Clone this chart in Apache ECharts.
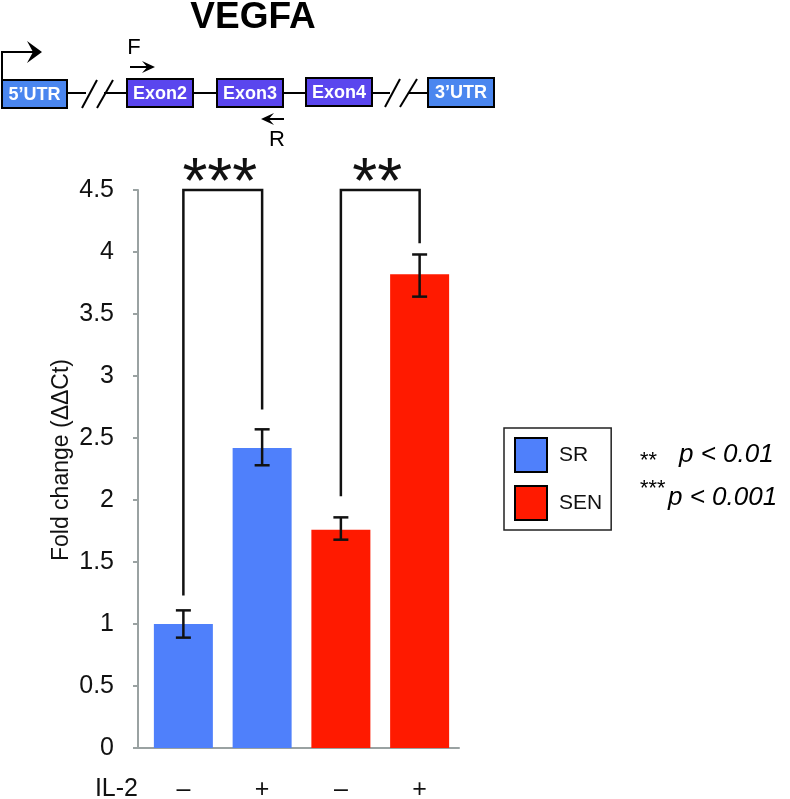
<!DOCTYPE html>
<html>
<head>
<meta charset="utf-8">
<script src="https://cdn.jsdelivr.net/npm/echarts@6/dist/echarts.min.js"></script>
<style>
  html, body { margin: 0; padding: 0; background: #fff; }
  #chart { width: 790px; height: 799px; }
</style>
</head>
<body>
<div id="chart"></div>
<script>
// 数据
var groups = ['–', '+', '–', '+'];
var seriesNames = ['SR', 'SEN'];
var srValues = [1.0, 2.42, '-', '-'];
var senValues = ['-', '-', 1.76, 3.82];
var errLow = [0.89, 2.28, 1.68, 3.64];
var errHigh = [1.11, 2.57, 1.86, 3.98];
// 显著性标记
var sigPairs = [[0, 1], [2, 3]];
var sigTop = [4.5, 4.5];
var sigLeftEnd = [1.23, 2.03];
var sigRightEnd = [2.73, 4.07];
var sigLabels = ['***', '**'];
var pNotes = [['**', 'p < 0.01'], ['***', 'p < 0.001']];

var FONT = '"Liberation Sans", Arial, Helvetica, sans-serif';
var blue = '#4f80fb';
var red = '#ff1a00';
var utrBlue = '#4a86ef';
var exonPurple = '#5a46ee';

var errData = [];
for (var i = 0; i < groups.length; i++) {
    errData.push([i, errLow[i], errHigh[i]]);
}
var sigData = [];
for (var j = 0; j < sigPairs.length; j++) {
    sigData.push([sigPairs[j][0], sigPairs[j][1], sigTop[j], sigLeftEnd[j], sigRightEnd[j]]);
}

// 基因结构示意图
function geneBox(x, y, w, h, fill, txt) {
    return [
        { type: 'rect', shape: { x: x, y: y, width: w, height: h },
          style: { fill: fill, stroke: '#000', lineWidth: 2 } },
        { type: 'text', x: x + w / 2, y: y + h / 2 + 1,
          style: { text: txt, fill: '#fff', font: 'bold 18px ' + FONT, align: 'center', verticalAlign: 'middle' } }
    ];
}
function seg(x1, y1, x2, y2, w) {
    return { type: 'line', shape: { x1: x1, y1: y1, x2: x2, y2: y2 }, style: { stroke: '#000', lineWidth: w || 2 } };
}
function arrowHead(x, y, dir, len, hw) {
    var d = dir > 0 ? 1 : -1;
    len = len || 12; hw = hw || 6;
    return { type: 'polygon',
             shape: { points: [[x, y], [x - d * len, y - hw], [x - d * len * 0.6, y], [x - d * len, y + hw]] },
             style: { fill: '#000' } };
}

var diagram = [];
diagram.push(seg(67, 93, 86, 93), seg(104, 93, 127, 93), seg(193, 93, 217, 93),
             seg(283, 93, 306, 93), seg(372, 93, 390, 93), seg(408, 93, 428, 93));
diagram.push(seg(82, 108, 97, 80), seg(97, 108, 113, 80), seg(385, 107, 400, 79), seg(400, 107, 417, 79));
diagram = diagram.concat(geneBox(2, 80, 65, 28, utrBlue, '5’UTR'));
diagram = diagram.concat(geneBox(127, 79, 66, 28, exonPurple, 'Exon2'));
diagram = diagram.concat(geneBox(217, 79, 66, 28, exonPurple, 'Exon3'));
diagram = diagram.concat(geneBox(306, 78, 66, 28, exonPurple, 'Exon4'));
diagram = diagram.concat(geneBox(428, 78, 66, 29, utrBlue, '3’UTR'));
// 启动子箭头
diagram.push(seg(2, 80, 2, 51), seg(1, 52, 34, 52), arrowHead(42, 52, 1, 15, 11));
// 引物 F / R
diagram.push(seg(130, 67, 148, 67), arrowHead(155, 67, 1, 13, 6));
diagram.push({ type: 'text', x: 134, y: 48, style: { text: 'F', font: '22px ' + FONT, fill: '#000', align: 'center', verticalAlign: 'middle' } });
diagram.push(seg(284, 119, 268, 119), arrowHead(261, 119, -1, 13, 6));
diagram.push({ type: 'text', x: 277, y: 140, style: { text: 'R', font: '22px ' + FONT, fill: '#000', align: 'center', verticalAlign: 'middle' } });
// 标题
diagram.push({ type: 'text', x: 253, y: 18, style: { text: 'VEGFA', font: 'bold 37px ' + FONT, fill: '#000', align: 'center', verticalAlign: 'middle' } });
// x轴起点补齐
diagram.push({ type: 'line', shape: { x1: 133, y1: 748, x2: 145, y2: 748 }, style: { stroke: '#9aa2a2', lineWidth: 2 } });
// IL-2
diagram.push({ type: 'text', x: 138, y: 789, style: { text: 'IL-2', font: '25px ' + FONT, fill: '#111', align: 'right', verticalAlign: 'middle' } });
// p 值说明
var starY = [461, 489];
var pY = [455, 498];
var pX = [679, 668];
for (var k = 0; k < pNotes.length; k++) {
    diagram.push({ type: 'text', x: 639, y: starY[k], style: { text: pNotes[k][0], font: 'italic 22px ' + FONT, fill: '#000', align: 'left', verticalAlign: 'middle' } });
    diagram.push({ type: 'text', x: pX[k], y: pY[k], style: { text: pNotes[k][1], font: 'italic 26px ' + FONT, fill: '#000', align: 'left', verticalAlign: 'middle' } });
}

var myChart = echarts.init(document.getElementById('chart'));

var option = {
    backgroundColor: '#fff',
    animation: false,
    textStyle: { fontFamily: FONT },
    grid: { left: 144, right: 331, top: 190, bottom: 51, containLabel: false, outerBoundsMode: 'none' },
    legend: {
        data: seriesNames,
        orient: 'vertical',
        left: 504,
        top: 428,
        padding: [9, 9, 9, 10],
        itemWidth: 32,
        itemHeight: 34,
        itemGap: 12,
        icon: 'rect',
        borderColor: '#222',
        borderWidth: 1.5,
        itemStyle: { borderColor: '#000', borderWidth: 2 },
        textStyle: { fontSize: 21, color: '#111', fontFamily: FONT, padding: [0, 0, 0, 7] }
    },
    xAxis: {
        type: 'category',
        data: groups,
        axisLine: { lineStyle: { color: '#9aa2a2', width: 2 } },
        axisTick: { show: false },
        axisLabel: { fontSize: 25, color: '#111', margin: 30, fontFamily: FONT }
    },
    yAxis: {
        type: 'value',
        min: 0,
        max: 4.5,
        interval: 0.5,
        offset: 6,
        name: 'Fold change (ΔΔCt)',
        nameLocation: 'middle',
        nameRotate: 90,
        nameGap: 65,
        nameTextStyle: { fontSize: 23, color: '#111', fontFamily: FONT, padding: [0, 0, 0, 18] },
        axisLine: { show: true, lineStyle: { color: '#9aa2a2', width: 2 } },
        axisTick: { show: true, length: 5, lineStyle: { color: '#9aa2a2', width: 2 } },
        axisLabel: { fontSize: 25, color: '#111', margin: 24, fontFamily: FONT },
        splitLine: { show: false }
    },
    series: [
        {
            name: 'SR',
            type: 'bar',
            stack: 'g',
            barWidth: 59,
            itemStyle: { color: blue },
            data: srValues
        },
        {
            name: 'SEN',
            type: 'bar',
            stack: 'g',
            barWidth: 59,
            itemStyle: { color: red },
            data: senValues
        },
        {
            // 误差线
            type: 'custom',
            z: 10,
            data: errData,
            encode: { x: 0, y: [1, 2] },
            renderItem: function (params, api) {
                var lo = api.coord([api.value(0), api.value(1)]);
                var hi = api.coord([api.value(0), api.value(2)]);
                var half = 7.5;
                var st = { stroke: '#111', lineWidth: 2.5 };
                return {
                    type: 'group',
                    children: [
                        { type: 'line', shape: { x1: lo[0], y1: lo[1], x2: hi[0], y2: hi[1] }, style: st },
                        { type: 'line', shape: { x1: lo[0] - half, y1: lo[1], x2: lo[0] + half, y2: lo[1] }, style: st },
                        { type: 'line', shape: { x1: hi[0] - half, y1: hi[1], x2: hi[0] + half, y2: hi[1] }, style: st }
                    ]
                };
            }
        },
        {
            // 显著性括号
            type: 'custom',
            z: 11,
            data: sigData,
            encode: { x: [0, 1], y: [2, 3, 4] },
            renderItem: function (params, api) {
                var tl = api.coord([api.value(0), api.value(2)]);
                var tr = api.coord([api.value(1), api.value(2)]);
                var bl = api.coord([api.value(0), api.value(3)]);
                var br = api.coord([api.value(1), api.value(4)]);
                return {
                    type: 'group',
                    children: [
                        { type: 'polyline', shape: { points: [bl, tl, tr, br] },
                          style: { stroke: '#111', lineWidth: 2.5, fill: null } },
                        { type: 'text', x: (tl[0] + tr[0]) / 2 - 3, y: tl[1] + 27,
                          style: { text: sigLabels[params.dataIndex], font: '64px ' + FONT, fill: '#111',
                                   align: 'center', verticalAlign: 'bottom' } }
                    ]
                };
            }
        }
    ],
    graphic: diagram
};

myChart.setOption(option);
</script>
</body>
</html>
